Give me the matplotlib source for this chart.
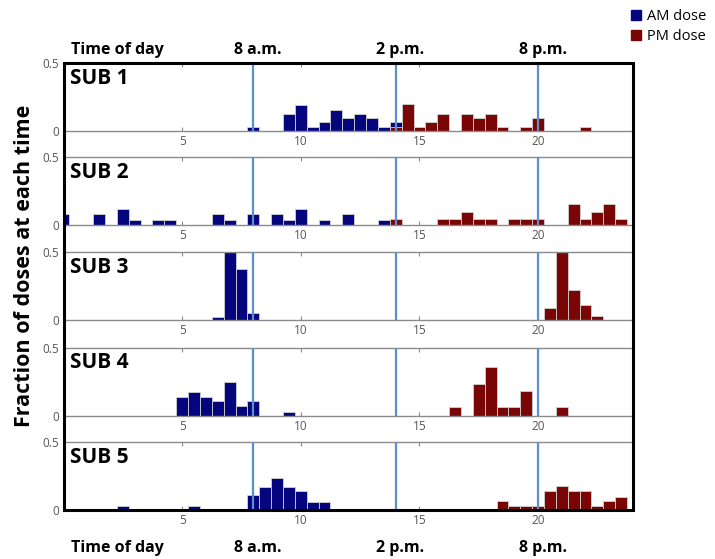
import numpy as np
import matplotlib.pyplot as plt
from matplotlib.patches import Rectangle

# fraction of doses per half-hour bin
sub1_am_t = [8, 9.5, 10, 10.5, 11, 11.5, 12, 12.5, 13, 13.5, 14]
sub1_am_f = [0.03, 0.13, 0.19, 0.035, 0.067, 0.16, 0.10, 0.13, 0.10, 0.035, 0.067]
sub1_pm_t = [14, 14.5, 15, 15.5, 16, 17, 17.5, 18, 18.5, 19.5, 20, 22]
sub1_pm_f = [0.035, 0.20, 0.035, 0.067, 0.13, 0.13, 0.10, 0.13, 0.035, 0.035, 0.10, 0.035]

sub2_am_t = [0, 1.5, 2.5, 3, 4, 4.5, 6.5, 7, 8, 9, 9.5, 10, 11, 12, 13.5, 14]
sub2_am_f = [0.08, 0.08, 0.12, 0.04, 0.04, 0.04, 0.08, 0.04, 0.08, 0.08, 0.04, 0.12, 0.04, 0.08, 0.04, 0.04]
sub2_pm_t = [14, 16, 16.5, 17, 17.5, 18, 19, 19.5, 20, 21.5, 22, 22.5, 23, 23.5]
sub2_pm_f = [0.05, 0.05, 0.05, 0.10, 0.05, 0.05, 0.05, 0.05, 0.05, 0.155, 0.05, 0.10, 0.155, 0.05]

sub3_am_t = [6.5, 7, 7.5, 8]
sub3_am_f = [0.025, 0.5, 0.375, 0.05]
sub3_pm_t = [20.5, 21, 21.5, 22, 22.5]
sub3_pm_f = [0.085, 0.5, 0.22, 0.11, 0.03]

sub4_am_t = [5, 5.5, 6, 6.5, 7, 7.5, 8, 9.5]
sub4_am_f = [0.14, 0.175, 0.14, 0.105, 0.25, 0.07, 0.105, 0.03]
sub4_pm_t = [16.5, 17.5, 18, 18.5, 19, 19.5, 21]
sub4_pm_f = [0.065, 0.235, 0.36, 0.065, 0.065, 0.18, 0.065]

sub5_am_t = [2.5, 5.5, 8, 8.5, 9, 9.5, 10, 10.5, 11]
sub5_am_f = [0.03, 0.03, 0.115, 0.17, 0.235, 0.17, 0.14, 0.06, 0.06]
sub5_pm_t = [18.5, 19, 19.5, 20, 20.5, 21, 21.5, 22, 22.5, 23, 23.5]
sub5_pm_f = [0.07, 0.035, 0.035, 0.035, 0.14, 0.18, 0.14, 0.14, 0.035, 0.07, 0.10]

subjects = ['SUB 1', 'SUB 2', 'SUB 3', 'SUB 4', 'SUB 5']
am_t = [sub1_am_t, sub2_am_t, sub3_am_t, sub4_am_t, sub5_am_t]
am_f = [sub1_am_f, sub2_am_f, sub3_am_f, sub4_am_f, sub5_am_f]
pm_t = [sub1_pm_t, sub2_pm_t, sub3_pm_t, sub4_pm_t, sub5_pm_t]
pm_f = [sub1_pm_f, sub2_pm_f, sub3_pm_f, sub4_pm_f, sub5_pm_f]

ref_hours = [8, 14, 20]
ref_labels = ['8 a.m.', '2 p.m.', '8 p.m.']
xticks = [5, 10, 15, 20]

blue = '#05057d'
red = '#7a0505'
line_c = '#5b8fd0'
grey = '#8a8a8a'

W, H = 715, 559
fig = plt.figure(figsize=(W / 100, H / 100), dpi=100)
plt.rcParams['font.family'] = ['Open Sans', 'DejaVu Sans']

left_px, right_px = 63.5, 633
tops = [63.3, 157.3, 252, 347.7, 442.3]
ph = 68

axes = []
for i, name in enumerate(subjects):
    ax = fig.add_axes([left_px / W, 1 - (tops[i] + ph) / H, (right_px - left_px) / W, ph / H])
    ax.bar(am_t[i], am_f[i], width=0.5, color=blue, edgecolor='#d0d0d0', linewidth=0.6, zorder=2)
    ax.bar(pm_t[i], pm_f[i], width=0.5, color=red, edgecolor='#d0d0d0', linewidth=0.6, zorder=2)
    for h in ref_hours:
        ax.axvline(h, color=line_c, lw=1.6, zorder=3)
    ax.set_xlim(0, 24)
    ax.set_ylim(0, 0.5)
    ax.set_xticks(xticks)
    ax.set_yticks([0, 0.5])
    ax.set_yticklabels(['0', '0.5'])
    ax.tick_params(axis='both', direction='in', length=3, width=0.8, color=grey,
                   labelcolor='#555555', labelsize=8.5, pad=3, top=True)
    ax.tick_params(axis='y', length=0, pad=3)
    for s in ax.spines.values():
        s.set_color(grey)
        s.set_linewidth(1.0)
    ax.text(0.012, 0.93, name, transform=ax.transAxes, fontsize=15, fontweight='bold',
            ha='left', va='top')
    axes.append(ax)

# thick outer frame around all panels
fig.patches.append(Rectangle((left_px / W, 1 - (tops[-1] + ph) / H),
                             (right_px - left_px) / W, (tops[-1] + ph - tops[0]) / H,
                             transform=fig.transFigure, fill=False, edgecolor='black',
                             lw=2.2, zorder=10))

# time-of-day annotations above and below
for ax, y in [(axes[0], 1.2), (axes[-1], -0.56)]:
    ax.text(0.3, y, 'Time of day', transform=ax.get_xaxis_transform(), fontsize=11.5,
            fontweight='bold', ha='left', va='center')
    for h, lab in zip(ref_hours, ref_labels):
        ax.text(h + 0.2, y, lab, transform=ax.get_xaxis_transform(), fontsize=11.5,
                fontweight='bold', ha='center', va='center')

fig.text(25 / W, 1 - 266 / H, 'Fraction of doses at each time', rotation=90,
         fontsize=15.5, fontweight='bold', ha='center', va='center')

# legend
fig.legend(handles=[Rectangle((0, 0), 1, 1, color=blue), Rectangle((0, 0), 1, 1, color=red)],
           labels=['AM dose', 'PM dose'], loc='upper right', bbox_to_anchor=(1.0, 1.0),
           frameon=False, fontsize=10.5, handlelength=0.7, handleheight=0.7,
           handletextpad=0.4, labelspacing=0.35, borderaxespad=0.2)

fig.savefig('out.png', dpi=100)
